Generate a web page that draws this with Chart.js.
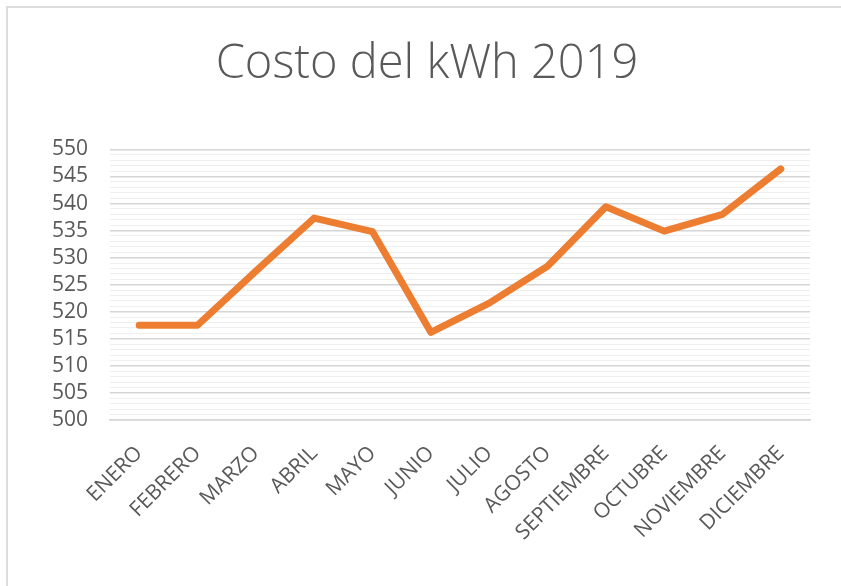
<!DOCTYPE html>
<html>
<head>
<meta charset="utf-8">
<script src="https://cdn.jsdelivr.net/npm/chart.js@4/dist/chart.umd.min.js"></script>
<style>
  html, body { margin: 0; padding: 0; background: #ffffff; }
  #wrap { position: relative; width: 841px; height: 586px; overflow: hidden; }
  #frame { position: absolute; left: 6px; top: 6px; right: -10px; bottom: -10px;
           border-top: 2px solid #dcdcdc; border-left: 2px solid #dcdcdc; pointer-events: none; }
  canvas { position: absolute; left: 0; top: 0; }
</style>
</head>
<body>
<div id="wrap">
  <canvas id="chart" width="841" height="586"></canvas>
  <div id="frame"></div>
</div>
<script>
// Monthly cost per kWh, 2019
const months = ['ENERO', 'FEBRERO', 'MARZO', 'ABRIL', 'MAYO', 'JUNIO', 'JULIO',
                'AGOSTO', 'SEPTIEMBRE', 'OCTUBRE', 'NOVIEMBRE', 'DICIEMBRE'];
const costs = [517.5, 517.5, 527.5, 537.3, 534.8, 516.2, 521.6, 528.4, 539.4, 534.9, 538.0, 546.4];

const yMin = 500;
const yMax = 550;
const majorStep = 5;

const textColor = '#595959';
const fontFamily = '"Open Sans", "Liberation Sans", sans-serif';

new Chart(document.getElementById('chart'), {
  type: 'line',
  data: {
    labels: months,
    datasets: [{
      data: costs,
      borderColor: '#ED7D31',
      backgroundColor: '#ED7D31',
      borderWidth: 7,
      borderCapStyle: 'round',
      borderJoinStyle: 'round',
      pointRadius: 0,
      tension: 0,
      fill: false
    }]
  },
  options: {
    responsive: false,
    animation: false,
    layout: { padding: { left: 44, right: 31, top: 0, bottom: 0 } },
    plugins: {
      legend: { display: false },
      tooltip: { enabled: false },
      title: {
        display: true,
        text: 'Costo del kWh 2019',
        color: textColor,
        font: { family: fontFamily, size: 47, weight: '300' },
        padding: { top: 36, bottom: 57 }
      }
    },
    scales: {
      x: {
        offset: true,
        grid: { display: false },
        border: { display: true, color: '#d6d6d6', width: 1.5 },
        ticks: {
          color: textColor,
          font: { family: fontFamily, size: 21 },
          maxRotation: 45,
          minRotation: 45,
          autoSkip: false,
          padding: 13
        },
        afterFit: (scale) => { scale.height = 166; }
      },
      y: {
        min: yMin,
        max: yMax,
        border: { display: false },
        grid: {
          drawTicks: false,
          lineWidth: (ctx) => (ctx.tick && ctx.tick.value % majorStep === 0) ? 1.5 : 1,
          color: (ctx) => (ctx.tick && ctx.tick.value % majorStep === 0) ? '#d6d6d6' : '#efefef'
        },
        ticks: {
          stepSize: 1,
          autoSkip: false,
          color: textColor,
          font: { family: fontFamily, size: 21 },
          padding: 22,
          callback: (value) => (value % majorStep === 0 ? value : '')
        },
        afterFit: (scale) => { scale.width = 66; }
      }
    }
  }
});
</script>
</body>
</html>
